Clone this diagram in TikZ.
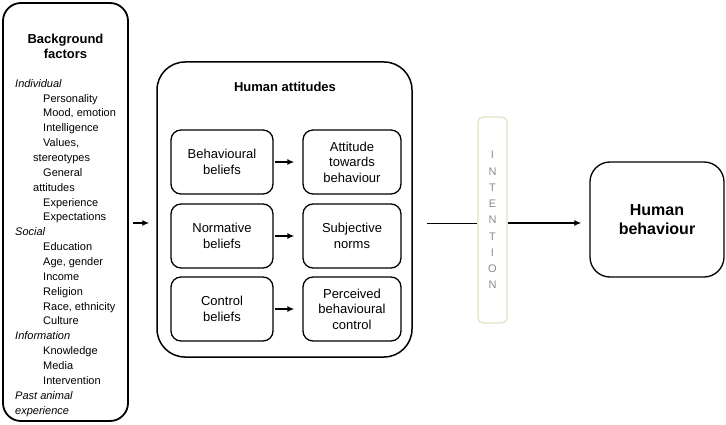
\documentclass[tikz,border=0pt]{standalone}
\usepackage{fontspec}
\setmainfont{Liberation Sans}
\usepackage[dvipsnames]{xcolor}
\usepackage{tikz}
\usetikzlibrary{calc, positioning, arrows.meta}
\definecolor{intframe}{HTML}{E3DEC6}
\definecolor{intletter}{HTML}{8C8C8C}

\begin{document}
\begin{tikzpicture}[x=1pt, y=-1pt, >={Latex[length=7pt, width=6pt]},
            box/.style={draw, line width=1.3pt, rounded corners=10pt, align=center, inner sep=0pt},
            smallbox/.style={box, minimum height=64pt, font=\fontsize{13}{15.5}\selectfont},
            title/.style={font=\bfseries\fontsize{13}{15}\selectfont, align=center, inner sep=0pt}]
            \useasboundingbox (0,0) rectangle (726,425);
            \coordinate (lvl) at (0,223);

            % background factors
            \node[box, line width=1.8pt, rounded corners=18pt, minimum width=125pt, minimum height=418pt] (bg) at (65.5,212) {};
            \node[title] (bgtitle) at (65.5,46) {Background\\factors};
            \node[anchor=north west, align=left, inner sep=0pt, font=\fontsize{11}{14.86}\selectfont] (bglist) at (15,79) {%
                \textit{Individual}\\
                \hspace*{28pt}Personality\\
                \hspace*{28pt}Mood, emotion\\
                \hspace*{28pt}Intelligence\\
                \hspace*{28pt}Values,\\
                \hspace*{18pt}stereotypes\\
                \hspace*{28pt}General\\
                \hspace*{18pt}attitudes\\
                \hspace*{28pt}Experience\\
                \hspace*{28pt}Expectations\\
                \textit{Social}\\
                \hspace*{28pt}Education\\
                \hspace*{28pt}Age, gender\\
                \hspace*{28pt}Income\\
                \hspace*{28pt}Religion\\
                \hspace*{28pt}Race, ethnicity\\
                \hspace*{28pt}Culture\\
                \textit{Information}\\
                \hspace*{28pt}Knowledge\\
                \hspace*{28pt}Media\\
                \hspace*{28pt}Intervention\\
                \textit{Past animal}\\
                \textit{experience}};

            % human attitudes
            \node[box, line width=1.5pt, rounded corners=28pt, minimum width=255pt, minimum height=295pt] (att) at (284.5,209.5) {};
            \node[title] (atttitle) at (285,87) {Human attitudes};
            \foreach \nm/\y/\ltxt/\rtxt in {beh/162/{Behavioural\\beliefs}/{Attitude\\towards\\behaviour},
                                           nor/236/{Normative\\beliefs}/{Subjective\\norms},
                                           con/309/{Control\\beliefs}/{Perceived\\behavioural\\control}} {
                \node[smallbox, minimum width=102pt] (\nm-l) at (222,\y) {\ltxt};
                \node[smallbox, minimum width=98pt] (\nm-r) at (352,\y) {\rtxt};
                \draw[->, line width=1.5pt] ([xshift=1pt]\nm-l.east) -- ([xshift=-8pt]\nm-r.west);
            };

            % intention and behaviour
            \node[draw=intframe, line width=1.3pt, rounded corners=5pt, minimum width=29pt, minimum height=206pt, inner sep=0pt,
                text=intletter, align=center, font=\fontsize{11}{16.25}\selectfont] (int) at (492.5,220) {I\\N\\T\\E\\N\\T\\I\\O\\N};
            \node[box, rounded corners=20pt, minimum width=134pt, minimum height=115pt,
                font=\bfseries\fontsize{16}{19}\selectfont] (hb) at (657,219.5) {Human\\behaviour};

            \draw[->, line width=1.5pt] ([xshift=4pt]bg.east |- lvl) -- ([xshift=-7pt]att.west |- lvl);
            \draw[line width=1pt] ([xshift=14pt]att.east |- lvl) -- (int.west |- lvl);
            \draw[->, line width=1.8pt] (int.east |- lvl) -- ([xshift=-8pt]hb.west |- lvl);
        \end{tikzpicture}
\end{document}
